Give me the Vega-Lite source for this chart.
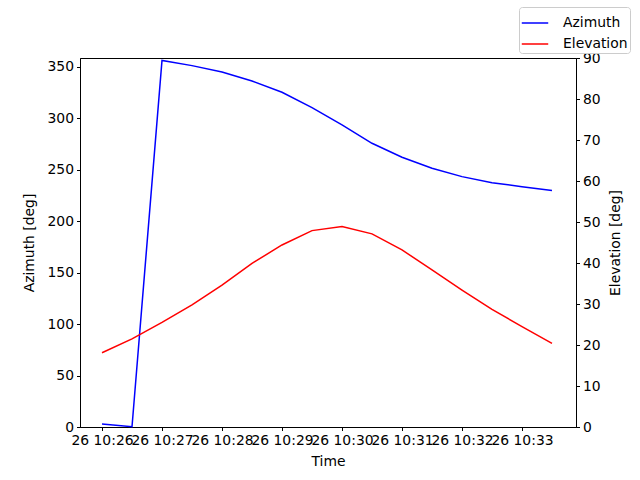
{
  "$schema": "https://vega.github.io/schema/vega-lite/v6.json",
  "description": "Azimuth and elevation over time, two y axes.",
  "width": 496,
  "height": 369,
  "autosize": {"type": "none"},
  "padding": {"left": 80, "top": 58, "right": 64, "bottom": 53},
  "background": "white",
  "config": {
    "font": "DejaVu Sans",
    "view": {"stroke": "black", "strokeWidth": 1},
    "axis": {
      "grid": false,
      "domainColor": "black",
      "tickColor": "black",
      "tickSize": 3.5,
      "labelFontSize": 13.9,
      "labelColor": "black",
      "titleFontSize": 13.9,
      "titleFontWeight": "normal",
      "titleColor": "black",
      "labelPadding": 3
    }
  },
  "data": {
    "values": [
      {"time": "2024-01-26T10:26:00", "azimuth": 3.0, "elevation": 18.1},
      {"time": "2024-01-26T10:26:30", "azimuth": 0.3, "elevation": 21.5},
      {"time": "2024-01-26T10:27:00", "azimuth": 356.3, "elevation": 25.5},
      {"time": "2024-01-26T10:27:30", "azimuth": 351.3, "elevation": 29.8},
      {"time": "2024-01-26T10:28:00", "azimuth": 345.0, "elevation": 34.6},
      {"time": "2024-01-26T10:28:30", "azimuth": 336.4, "elevation": 39.9},
      {"time": "2024-01-26T10:29:00", "azimuth": 325.4, "elevation": 44.4},
      {"time": "2024-01-26T10:29:30", "azimuth": 310.4, "elevation": 47.9},
      {"time": "2024-01-26T10:30:00", "azimuth": 293.6, "elevation": 48.9},
      {"time": "2024-01-26T10:30:30", "azimuth": 275.8, "elevation": 47.1},
      {"time": "2024-01-26T10:31:00", "azimuth": 262.2, "elevation": 43.2},
      {"time": "2024-01-26T10:31:30", "azimuth": 251.5, "elevation": 38.3},
      {"time": "2024-01-26T10:32:00", "azimuth": 243.4, "elevation": 33.4},
      {"time": "2024-01-26T10:32:30", "azimuth": 237.5, "elevation": 28.7},
      {"time": "2024-01-26T10:33:00", "azimuth": 233.6, "elevation": 24.5},
      {"time": "2024-01-26T10:33:30", "azimuth": 230.0, "elevation": 20.4}
    ]
  },
  "encoding": {
    "x": {
      "field": "time",
      "type": "temporal",
      "title": "Time",
      "scale": {"domain": ["2024-01-26T10:25:38", "2024-01-26T10:33:54"]},
      "axis": {
        "format": "%d %H:%M",
        "values": [
          "2024-01-26T10:26:00", "2024-01-26T10:27:00", "2024-01-26T10:28:00",
          "2024-01-26T10:29:00", "2024-01-26T10:30:00", "2024-01-26T10:31:00",
          "2024-01-26T10:32:00", "2024-01-26T10:33:00"
        ],
        "labelOverlap": false,
        "labelFlush": false,
        "titlePadding": 7
      }
    }
  },
  "layer": [
    {
      "mark": {"type": "line", "strokeWidth": 1.5},
      "encoding": {
        "y": {
          "field": "azimuth",
          "type": "quantitative",
          "title": "Azimuth [deg]",
          "scale": {"domain": [0, 358.7], "nice": false},
          "axis": {"orient": "left", "values": [0, 50, 100, 150, 200, 250, 300, 350], "titlePadding": 10}
        },
        "color": {
          "datum": "Azimuth",
          "type": "nominal",
          "scale": {"domain": ["Azimuth", "Elevation"], "range": ["#0000ff", "#ff0000"]},
          "legend": {
            "title": null,
            "orient": "none",
            "legendX": 439,
            "legendY": -51,
            "symbolType": "stroke",
            "symbolSize": 700,
            "symbolStrokeWidth": 1.5,
            "labelFontSize": 13.9,
            "labelColor": "black",
            "labelOffset": 14,
            "strokeColor": "#cccccc",
            "fillColor": "white",
            "cornerRadius": 3,
            "padding": 2,
            "rowPadding": 0
          }
        }
      }
    },
    {
      "mark": {"type": "line", "strokeWidth": 1.5},
      "encoding": {
        "y": {
          "field": "elevation",
          "type": "quantitative",
          "title": "Elevation [deg]",
          "scale": {"domain": [0, 90], "nice": false},
          "axis": {"orient": "right", "values": [0, 10, 20, 30, 40, 50, 60, 70, 80, 90], "titleAngle": 270, "titleBaseline": "top", "titlePadding": 8}
        },
        "color": {"datum": "Elevation", "type": "nominal"}
      }
    }
  ],
  "resolve": {"scale": {"y": "independent"}}
}
